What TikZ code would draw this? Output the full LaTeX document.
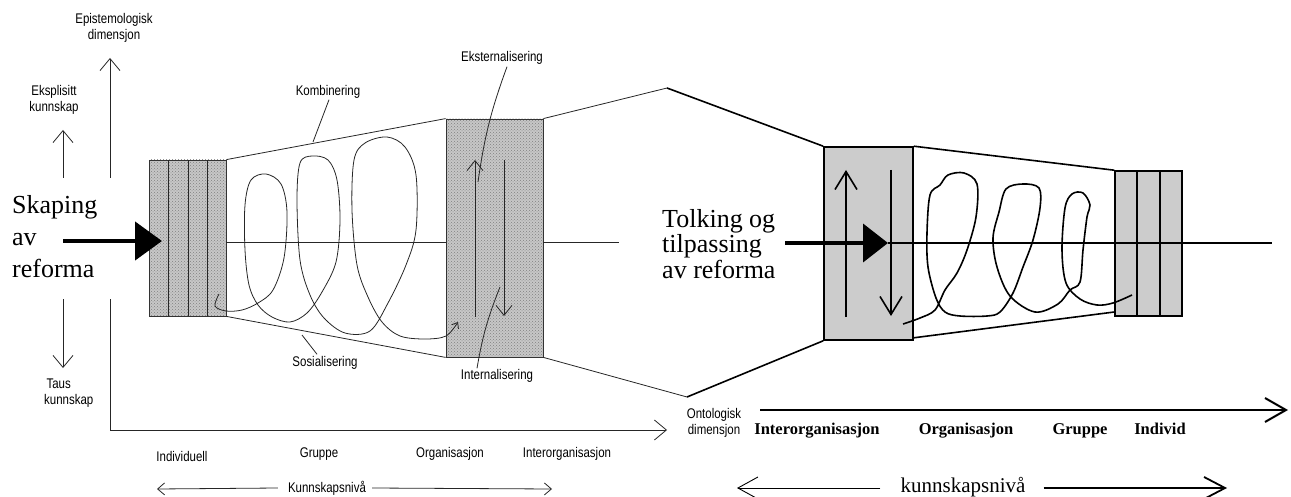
\documentclass[tikz,border=0pt]{standalone}
\usepackage{fontspec}
\setmainfont{Liberation Serif}
\newfontfamily\narrowsf[FakeStretch=0.82]{Liberation Sans}
\usetikzlibrary{arrows.meta,patterns}
\tikzset{
  thin line/.style={line width=0.8pt, draw=black!85},
  heavy line/.style={line width=1.6pt, draw=black},
  smalltxt/.style={font=\narrowsf\fontsize{14}{16.5}\selectfont, inner sep=0pt, align=center},
  bigtxt/.style={font=\fontsize{26}{32}\selectfont, inner sep=0pt, align=left},
  bigtxtr/.style={font=\fontsize{26}{25.5}\selectfont, inner sep=0pt, align=left},
  boldlvl/.style={font=\bfseries\fontsize{16.5}{19}\selectfont, inner sep=0pt, anchor=base},
  levtxt/.style={font=\fontsize{21}{24}\selectfont, inner sep=0pt},
  barb/.style={-{Straight Barb[length=12pt,width=20pt]}},
  smallbarb/.style={-{Straight Barb[length=7pt,width=12pt]}},
  hatchbox/.style={rectangle, inner sep=0pt, draw=black!80, line width=0.8pt,
     preaction={fill=black!22}, pattern=crosshatch dots, pattern color=black!50},
  greybox/.style={rectangle, inner sep=0pt, draw=black, line width=1.6pt, fill=black!20},
}
\begin{document}
\begin{tikzpicture}[x=1pt,y=-1pt]
\useasboundingbox (0,0) rectangle (1291,497);

% ---------- left axes ----------
\node[smalltxt] (epi) at (114,28) {Epistemologisk\\dimensjon};
\node[smalltxt] (eks) at (54,100) {Eksplisitt\\kunnskap};
\node[smalltxt, align=left, anchor=west] (taus) at (44,393) {\,Taus\\kunnskap};
\coordinate (va1) at (110,178); \coordinate (va1t) at (110,58);
\coordinate (va2) at (110,299); \coordinate (corner) at (110,430); \coordinate (ha) at (667,430);
\draw[thin line, barb] (va1) -- (va1t);
\draw[thin line, barb] (va2) -- (corner) -- (ha);
\coordinate (eu) at (63,178); \coordinate (eut) at (63,130);
\coordinate (td) at (63,299); \coordinate (tdt) at (63,368);
\draw[thin line, barb] (eu) -- (eut);
\draw[thin line, barb] (td) -- (tdt);

\node[smalltxt] (indiv) at (182,456) {Individuell};
\node[smalltxt] (grp) at (319,454) {Gruppe};
\node[smalltxt] (org) at (450,454) {Organisasjon};
\node[smalltxt] (inter) at (567,454) {Interorganisasjon};
\node[smalltxt] (kn1) at (327,488) {Kunnskapsnivå};
\coordinate (kl) at (157,489); \coordinate (kr) at (552,489);
\draw[thin line, smallbarb] (kn1.west) ++(-10,0) -- (kl);
\draw[thin line, smallbarb] (kn1.east) ++(6,0) -- (kr);

% ---------- left boxes ----------
\node[hatchbox, minimum width=77pt, minimum height=156pt] (lbox) at (187.5,238) {};
\foreach \xx in {168,188,207} \draw[thin line] (\xx,160) -- (\xx,316);
\node[hatchbox, minimum width=97pt, minimum height=238pt] (mbox) at (494.5,238) {};

\draw[thin line] (lbox.north east) -- (mbox.north west);
\draw[thin line] (lbox.south east) -- (mbox.south west);
\coordinate (cl1) at (226,242); \coordinate (cl2) at (446,242);
\coordinate (cl3) at (543,242); \coordinate (cl4) at (619,242);
\draw[thin line] (cl1) -- (cl2);
\draw[thin line] (cl3) -- (cl4);

% arrows in middle box
\coordinate (up1) at (475,317); \coordinate (up1t) at (475,160);
\coordinate (dn1) at (504,160); \coordinate (dn1t) at (504,316);
\draw[thin line, -{Straight Barb[length=10pt,width=16pt]}] (up1) -- (up1t);
\draw[thin line, -{Straight Barb[length=10pt,width=16pt]}] (dn1) -- (dn1t);

% left spiral
\draw[thin line, -{Straight Barb[length=5pt,width=8pt]}] plot[smooth, tension=0.55] coordinates {
 (219,294) (215,306) (226,311) (242,310) (258,303) (273,290) (284,258) (287,212) (281,184)
 (266,174) (251,180) (245,205) (245,250) (249,285) (258,305) (272,317) (290,322)
 (307,313) (322,292) (336,262) (340,220) (337,180) (328,160) (312,156) (300,163)
 (297,200) (300,260) (310,295) (324,318) (345,333) (370,331) (388,303) (406,265)
 (416,230) (416,175) (405,147) (387,137) (365,143) (354,160) (352,210) (357,265)
 (368,297) (382,322) (400,336) (425,339) (446,336) (458,322)};

% labels with leaders
\node[smalltxt] (komb) at (328,92) {Kombinering};
\coordinate (kombp) at (313,142);
\draw[thin line] (komb.south) ++(1,1) -- (kombp);
\node[smalltxt] (ekst) at (502,58) {Eksternalisering};
\coordinate (ekstp) at (478,182);
\draw[thin line] (ekst.south) ++(5,2) to[bend right=6] (ekstp);
\node[smalltxt] (sos) at (325,363) {Sosialisering};
\coordinate (sosp) at (302,335);
\draw[thin line] (sos.north) ++(-8,-2) -- (sosp);
\node[smalltxt] (intl) at (497,376) {Internalisering};
\coordinate (intlp) at (500,287);
\draw[thin line] (intl.north) ++(-20,-1) to[bend left=6] (intlp);

% left big text and thick arrow
\node[bigtxt, anchor=north west] (skap) at (12,195) {Skaping\\av\\reforma};
\coordinate (sa) at (63,241); \coordinate (sat) at (162,241);
\draw[line width=4.5pt, -{Triangle[length=27pt,width=38pt]}] (sa) -- (sat);

% ---------- right part ----------
\node[greybox, minimum width=89pt, minimum height=193pt] (rbox) at (868.5,243.5) {};
\node[greybox, minimum width=67pt, minimum height=145pt] (sbox) at (1148.5,243.5) {};
\foreach \xx in {1137,1160} \draw[heavy line] (\xx,171) -- (\xx,316);

\coordinate (ktop) at (667,88); \coordinate (kbot) at (687,397);
\draw[thin line] (mbox.north east) -- (ktop);
\draw[heavy line] (ktop) -- (rbox.north west);
\draw[thin line] (mbox.south east) -- (kbot);
\draw[heavy line] (kbot) -- (rbox.south west);
\draw[heavy line] (rbox.north east) -- (sbox.north west);
\draw[heavy line] (rbox.south east) ++(0,-3) -- (sbox.south west |- 0,312);

\coordinate (up2) at (846,317); \coordinate (up2t) at (846,170);
\coordinate (dn2) at (891,170); \coordinate (dn2t) at (891,316);
\draw[heavy line, -{Straight Barb[length=18pt,width=22pt]}] (up2) -- (up2t);
\draw[heavy line, -{Straight Barb[length=18pt,width=22pt]}] (dn2) -- (dn2t);

\coordinate (rl1) at (888,243); \coordinate (rl2) at (1272,243);
\draw[heavy line] (rl1) -- (rl2);
\coordinate (ra) at (785,243);
\draw[line width=4pt, -{Triangle[length=25pt,width=38pt]}] (ra) -- (rl1);

\node[bigtxtr, anchor=north west] (tolk) at (662,209) {Tolking og\\tilpassing\\av reforma};

% right spiral
\draw[heavy line] plot[smooth, tension=0.55] coordinates {
 (903,324) (920,318) (935,310) (945,290) (957,273) (967,250) (976,217) (977,184)
 (964,173) (948,175) (940,185) (930,195) (927,233) (928,267) (936,298) (945,312)
 (960,316) (987,316) (1000,312) (1013,293) (1023,267) (1033,240) (1040,208)
 (1039,188) (1023,184) (1006,189) (999,212) (993,238) (997,267) (1010,296)
 (1035,312) (1058,304) (1070,290) (1080,282) (1083,250) (1087,217) (1090,205)
 (1083,193) (1072,194) (1065,208) (1062,250) (1066,283) (1080,299) (1097,305)
 (1113,303) (1132,295)};

% right axis
\node[smalltxt] (onto) at (714,423) {Ontologisk\\dimensjon};
\coordinate (oa) at (760,410); \coordinate (oat) at (1288,410);
\draw[line width=2pt, -{Straight Barb[length=21pt,width=24pt]}] (oa) -- (oat);
\node[boldlvl] (rinter) at (817,434) {Interorganisasjon};
\node[boldlvl] (rorg) at (966,434) {Organisasjon};
\node[boldlvl] (rgrp) at (1080,434) {Gruppe};
\node[boldlvl] (rind) at (1160,434) {Individ};

\node[levtxt] (kn2) at (963,487) {kunnskapsnivå};
\coordinate (k2l) at (737,488); \coordinate (k2r) at (1227,488);
\draw[line width=0.9pt, -{Straight Barb[length=20pt,width=22pt]}] (kn2.west) ++(-20,1) -- (k2l);
\draw[line width=1.8pt, -{Straight Barb[length=21pt,width=22pt]}] (kn2.east) ++(18,1) -- (k2r);
\end{tikzpicture}
\end{document}
